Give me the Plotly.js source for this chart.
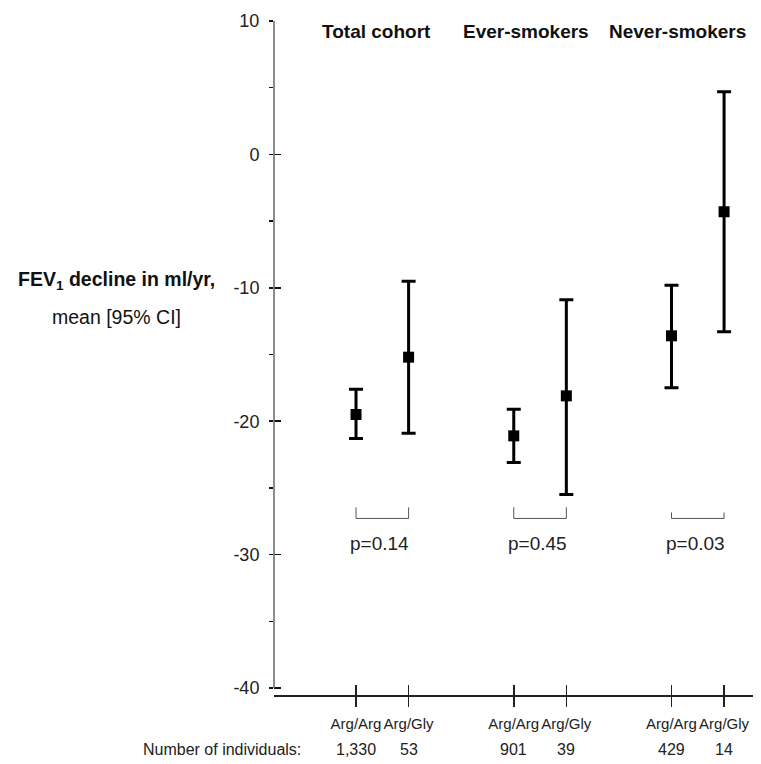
<!DOCTYPE html>
<html>
<head>
<meta charset="utf-8">
<script src="https://cdn.plot.ly/plotly-3.0.1.min.js"></script>
<style>html,body{margin:0;padding:0;background:#fff;}#chart{width:761px;height:764px;}</style>
</head>
<body>
<div id="chart"></div>
<script>
// ---- data ----
const groups = ['Total cohort', 'Ever-smokers', 'Never-smokers'];
const genotypes = ['Arg/Arg', 'Arg/Gly', 'Arg/Arg', 'Arg/Gly', 'Arg/Arg', 'Arg/Gly'];
const meanDecline = [-19.5, -15.2, -21.1, -18.1, -13.6, -4.3];
const ciLower = [-21.3, -20.9, -23.1, -25.5, -17.5, -13.3];
const ciUpper = [-17.6, -9.5, -19.1, -10.9, -9.8, 4.7];
const nIndividuals = ['1,330', '53', '901', '39', '429', '14'];
const pValues = ['p=0.14', 'p=0.45', 'p=0.03'];
const yTickVals = [-40, -30, -20, -10, 0, 10];
const yMinorVals = [-35, -25, -15, -5, 5];

// ---- layout helpers ----
const FONT = 'Liberation Sans, Arial, sans-serif';
const xPos = genotypes.map((g, i) => Math.floor(i / 2) * 3 + (i % 2) + 1);
const groupCenter = groups.map((g, k) => k * 3 + 1.5);
const xRange = [-0.56, 8.55];
const yRange = [-40.525, 10];

const traceMain = {
  type: 'scatter', mode: 'markers',
  x: xPos, y: meanDecline,
  marker: {symbol: 'square', size: 11, color: '#000'},
  error_y: {
    type: 'data', symmetric: false,
    array: meanDecline.map((m, i) => ciUpper[i] - m),
    arrayminus: meanDecline.map((m, i) => m - ciLower[i]),
    color: '#000', thickness: 3, width: 7
  },
  hoverinfo: 'skip', showlegend: false
};
const traceGhost = {
  type: 'scatter', mode: 'markers', x: [xPos[0]], y: [meanDecline[0]],
  xaxis: 'x2', yaxis: 'y2', marker: {opacity: 0}, hoverinfo: 'skip', showlegend: false
};

const shapes = [{
  type: 'line', xref: 'paper', yref: 'y', x0: 0, x1: 0,
  y0: yTickVals[0], y1: yTickVals[yTickVals.length - 1],
  line: {color: '#666', width: 1.5}
}];
const bracketTop = [-26.46, -26.46, -26.84];
const bracketBottom = -27.29;
groups.forEach((g, k) => {
  const a = xPos[2 * k], b = xPos[2 * k + 1];
  shapes.push({
    type: 'path', xref: 'x', yref: 'y',
    path: `M ${a} ${bracketTop[k]} L ${a} ${bracketBottom} L ${b} ${bracketBottom} L ${b} ${bracketTop[k]}`,
    line: {color: '#555', width: 1}
  });
});

const annotations = [];
const headerX = [0.214, 0.527, 0.842];
groups.forEach((g, k) => {
  annotations.push({
    text: '<b>' + g + '</b>', xref: 'paper', yref: 'paper', x: headerX[k], y: 0.985,
    xanchor: 'center', yanchor: 'middle', showarrow: false,
    font: {family: FONT, size: 19, color: '#111'}
  });
  annotations.push({
    text: pValues[k], xref: 'x', yref: 'y', x: groupCenter[k] - 0.05, y: -29.2,
    xanchor: 'center', yanchor: 'middle', showarrow: false,
    font: {family: FONT, size: 19, color: '#222'}
  });
});
xPos.forEach((x, i) => {
  annotations.push({
    text: nIndividuals[i], xref: 'x', yref: 'paper', x: x, y: -0.0816,
    xanchor: 'center', yanchor: 'middle', showarrow: false,
    font: {family: FONT, size: 16, color: '#222'}
  });
});
annotations.push({
  text: 'Number of individuals:', xref: 'paper', yref: 'paper', x: 0.0605, y: -0.0816,
  xanchor: 'right', yanchor: 'middle', showarrow: false,
  font: {family: FONT, size: 16, color: '#222'}
});
annotations.push({
  text: '<b>FEV<sub>1</sub> decline in ml/yr,</b>', xref: 'paper', yref: 'paper', x: -0.3278, y: 0.6157,
  xanchor: 'center', yanchor: 'middle', showarrow: false,
  font: {family: FONT, size: 19.5, color: '#111'}
});
annotations.push({
  text: 'mean [95% CI]', xref: 'paper', yref: 'paper', x: -0.3278, y: 0.5608,
  xanchor: 'center', yanchor: 'middle', showarrow: false,
  font: {family: FONT, size: 19.5, color: '#111'}
});

const layout = {
  width: 761, height: 764,
  margin: {l: 274, r: 8, t: 21, b: 69, pad: 0},
  paper_bgcolor: '#fff', plot_bgcolor: '#fff',
  showlegend: false,
  xaxis: {
    range: xRange, tickmode: 'array', tickvals: xPos, ticktext: genotypes, tickangle: 0,
    ticks: 'outside', ticklen: 10, tickwidth: 1.5, tickcolor: '#222',
    showline: true, linecolor: '#222', linewidth: 1.5,
    showgrid: false, zeroline: false, ticklabelstandoff: 4,
    tickfont: {family: FONT, size: 15, color: '#222'}, fixedrange: true
  },
  xaxis2: {
    range: xRange, overlaying: 'x', anchor: 'y2', side: 'bottom',
    tickmode: 'array', tickvals: xPos, ticks: 'inside', ticklen: 10, tickwidth: 1.5, tickcolor: '#222',
    showticklabels: false, showline: false, showgrid: false, zeroline: false
  },
  yaxis: {
    range: yRange, tickmode: 'array', tickvals: yTickVals, ticktext: yTickVals.map(String),
    ticks: 'outside', ticklen: 4, tickwidth: 1.5, tickcolor: '#111',
    minor: {tickmode: 'array', tickvals: yMinorVals, ticks: 'outside', ticklen: 4, tickwidth: 1.5, tickcolor: '#111', showgrid: false},
    showline: false, showgrid: false, zeroline: false, ticklabelstandoff: 6,
    tickfont: {family: FONT, size: 18, color: '#222'}, fixedrange: true
  },
  yaxis2: {
    range: yRange, overlaying: 'y', anchor: 'x2', side: 'left',
    tickmode: 'array', tickvals: yTickVals, ticks: 'inside', ticklen: 7, tickwidth: 1.5, tickcolor: '#111',
    showticklabels: false, showline: false, showgrid: false, zeroline: false
  },
  shapes: shapes,
  annotations: annotations
};

Plotly.newPlot('chart', [traceMain, traceGhost], layout, {displayModeBar: false, staticPlot: true});
</script>
</body>
</html>
